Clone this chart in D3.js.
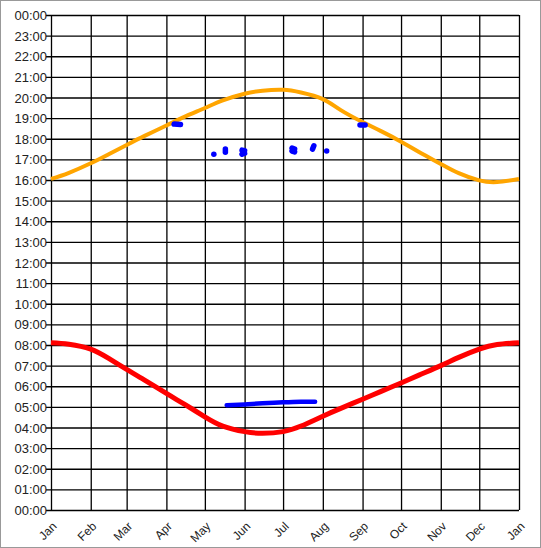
<!DOCTYPE html>
<html>
<head>
<meta charset="utf-8">
<script src="https://cdn.jsdelivr.net/npm/d3@7"></script>
<style>
  html, body { margin: 0; padding: 0; background: #fff; }
  svg { display: block; }
  .axis text { font-family: "Liberation Sans", Arial, sans-serif; fill: #222; }
  .grid line { stroke: #000; stroke-width: 1.3; }
</style>
</head>
<body>
<svg id="chart" width="541" height="548"></svg>
<script>
// sample dates (1st and 15th of each month)
var sampleDates = [
  "2009-01-01", "2009-01-15", "2009-02-01", "2009-02-15", "2009-03-01", "2009-03-15",
  "2009-04-01", "2009-04-15", "2009-05-01", "2009-05-15", "2009-06-01", "2009-06-15",
  "2009-07-01", "2009-07-15", "2009-08-01", "2009-08-15", "2009-09-01", "2009-09-15",
  "2009-10-01", "2009-10-15", "2009-11-01", "2009-11-15", "2009-12-01", "2009-12-15",
  "2010-01-01"
];
// hours of the day
var sunset = [
  16.05, 16.35, 16.81, 17.25, 17.70, 18.14,
  18.64, 19.06, 19.49, 19.86, 20.18, 20.33,
  20.37, 20.24, 19.92, 19.39, 18.81, 18.38,
  17.86, 17.36, 16.78, 16.33, 15.98, 15.90,
  16.05
];
var sunrise = [
  8.11, 8.04, 7.80, 7.35, 6.82, 6.30,
  5.65, 5.13, 4.52, 4.07, 3.80, 3.72,
  3.80, 4.07, 4.55, 4.93, 5.37, 5.74,
  6.16, 6.54, 7.00, 7.40, 7.80, 8.02,
  8.11
];
// evening observations (blue marks), points in one group drawn as one blot
var obsGroup = [0, 0, 1, 2, 2, 3, 3, 3, 3, 4, 4, 4, 4, 5, 5, 6, 7, 7];
var obsDate = [
  "2009-04-07", "2009-04-12", "2009-05-08", "2009-05-17", "2009-05-17",
  "2009-05-30", "2009-06-01", "2009-05-30", "2009-06-01",
  "2009-07-08", "2009-07-10", "2009-07-08", "2009-07-10",
  "2009-07-25", "2009-07-24", "2009-08-04", "2009-08-30", "2009-09-03"
];
var obsTime = [
  18.71, 18.69, 17.25, 17.50, 17.35,
  17.45, 17.42, 17.25, 17.30,
  17.55, 17.50, 17.40, 17.36,
  17.66, 17.50, 17.41, 18.67, 18.67
];
// morning observations (blue line)
var morningDate = ["2009-05-18", "2009-06-01", "2009-06-15", "2009-07-01", "2009-07-15", "2009-07-26"];
var morningTime = [5.08, 5.12, 5.17, 5.22, 5.25, 5.25];

var hourTicks = d3.range(0, 25);

(function Chart() {
  var svg = d3.select("#chart"),
    margin = {top: 15, right: 22, bottom: 38, left: 51},
    width = +svg.attr("width") - margin.left - margin.right,
    height = +svg.attr("height") - margin.top - margin.bottom;

  var parseDate = d3.timeParse("%Y-%m-%d");

  // image frame
  svg.append("rect")
    .attr("x", 0.5).attr("y", 0.5)
    .attr("width", +svg.attr("width") - 1)
    .attr("height", +svg.attr("height") - 1)
    .attr("fill", "none")
    .attr("stroke", "#999");

  var g = svg.append("g")
    .attr("transform", "translate(" + margin.left + "," + margin.top + ")");

  var x = d3.scaleTime()
    .domain([parseDate(sampleDates[0]), parseDate(sampleDates[sampleDates.length - 1])])
    .range([0, width]);

  var y = d3.scaleLinear()
    .domain([0, 24])
    .range([height, 0]);

  function fmtHour(h) {
    return d3.format("02d")(h % 24) + ":00";
  }

  // horizontal grid + y axis
  var yAxis = g.append("g")
    .attr("class", "axis grid")
    .call(d3.axisLeft(y)
      .tickValues(hourTicks)
      .tickFormat(fmtHour)
      .tickSize(-width - 5)
      .tickPadding(4)
      .tickSizeOuter(0));
  yAxis.select(".domain").remove();
  yAxis.selectAll(".tick line").attr("x1", -5).attr("x2", width);
  yAxis.selectAll("text").style("font-size", "13px").attr("dy", "0.35em");

  // vertical grid + x axis
  var months = x.ticks(d3.timeMonth.every(1));
  var xAxis = g.append("g")
    .attr("class", "axis grid")
    .attr("transform", "translate(0," + height + ")")
    .call(d3.axisBottom(x)
      .tickValues(months)
      .tickFormat(d3.timeFormat("%b"))
      .tickSize(-height)
      .tickSizeOuter(0));
  xAxis.select(".domain").remove();
  xAxis.selectAll("text")
    .style("font-size", "12px")
    .attr("text-anchor", "end")
    .attr("dy", null)
    .attr("y", null)
    .attr("transform", "translate(6,17) rotate(-45)");

  var line = d3.line()
    .x(function (d) { return x(d.date); })
    .y(function (d) { return y(d.value); })
    .curve(d3.curveNatural);

  function series(dates, values) {
    return dates.map(function (d, i) {
      return {date: parseDate(d), value: values[i]};
    });
  }

  g.append("path")
    .datum(series(sampleDates, sunset))
    .attr("fill", "none")
    .attr("stroke", "#FFA500")
    .attr("stroke-width", 4)
    .attr("d", line);

  g.append("path")
    .datum(series(sampleDates, sunrise))
    .attr("fill", "none")
    .attr("stroke", "#FF0000")
    .attr("stroke-width", 5)
    .attr("d", line);

  g.append("path")
    .datum(series(morningDate, morningTime))
    .attr("fill", "none")
    .attr("stroke", "#0000FF")
    .attr("stroke-width", 4.5)
    .attr("stroke-linecap", "round")
    .attr("d", line);

  var obs = series(obsDate, obsTime);
  obs.forEach(function (d, i) { d.group = obsGroup[i]; });
  var groups = Array.from(d3.group(obs, function (d) { return d.group; }).values());

  var blot = d3.line()
    .x(function (d) { return x(d.date); })
    .y(function (d) { return y(d.value); });

  g.selectAll(".obs")
    .data(groups)
    .enter().append("path")
      .attr("class", "obs")
      .attr("fill", "none")
      .attr("stroke", "#0000FF")
      .attr("stroke-width", 5.5)
      .attr("stroke-linecap", "round")
      .attr("stroke-linejoin", "round")
      .attr("d", function (pts) {
        if (pts.length === 1) pts = [pts[0], {date: pts[0].date, value: pts[0].value + 0.001}];
        return blot(pts);
      });
})();
</script>
</body>
</html>
